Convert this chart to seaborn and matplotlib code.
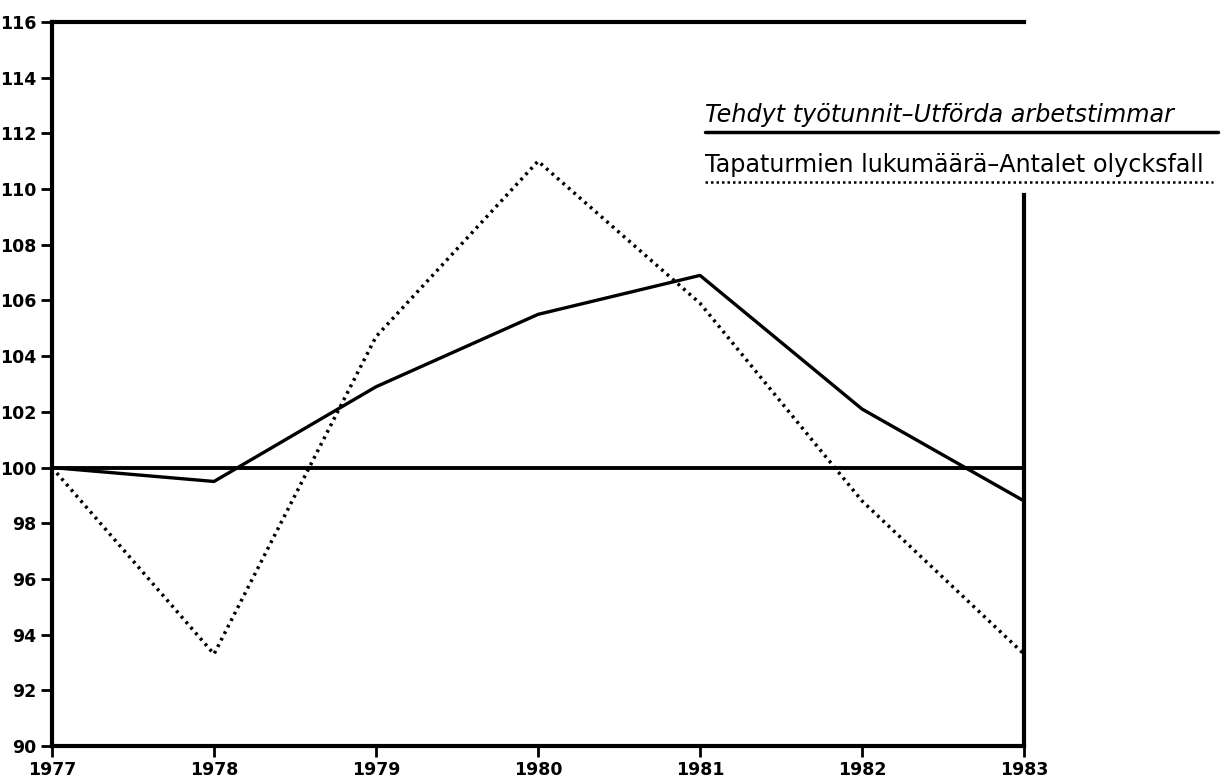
import pandas as pd
import seaborn as sns
import matplotlib.pyplot as plt
from matplotlib.lines import Line2D

years = [1977, 1978, 1979, 1980, 1981, 1982, 1983]
hours = [100.0, 99.5, 102.9, 105.5, 106.9, 102.1, 98.8]
accidents = [100.0, 93.3, 104.7, 111.0, 105.9, 98.8, 93.3]
yticks = list(range(90, 117, 2))
label_hours = 'Tehdyt työtunnit–Utförda arbetstimmar'
label_acc = 'Tapaturmien lukumäärä–Antalet olycksfall'

df = pd.DataFrame({'year': years, 'hours': hours, 'accidents': accidents})

sns.set_style('ticks')
plt.rcParams['font.family'] = ['DejaVu Sans']
plt.rcParams['text.color'] = 'black'

fig = plt.figure(figsize=(12.32, 7.77), dpi=100)
ax = fig.add_axes([0.0422, 0.0399, 0.789, 0.9318])

sns.lineplot(data=df, x='year', y='hours', ax=ax, color='black', lw=2.4)
sns.lineplot(data=df, x='year', y='accidents', ax=ax, color='black',
             lw=2.5, linestyle=(0, (0.8, 1.3)))
ax.axhline(100, color='black', lw=2.8)

ax.set_xlim(1977, 1983)
ax.set_ylim(90, 116)
ax.set_xticks(years)
ax.set_yticks(yticks)
ax.set_xlabel('')
ax.set_ylabel('')
ax.tick_params(direction='out', length=8, width=2, labelsize=12.5, pad=3, colors='black')
plt.setp(ax.get_xticklabels() + ax.get_yticklabels(), fontweight='bold')

for side in ['left', 'bottom', 'top', 'right']:
    ax.spines[side].set_visible(True)
    ax.spines[side].set_linewidth(3)
    ax.spines[side].set_color('black')
ax.spines['right'].set_bounds(90, 109.8)

# legend drawn by hand: text with the line sample underneath
x0, x1 = 705 / 1232, 1218 / 1232
fig.text(x0, 1 - 115 / 777, label_hours, style='italic', fontsize=17.2,
         ha='left', va='center', color='black')
fig.add_artist(Line2D([x0, x1], [1 - 132 / 777] * 2, transform=fig.transFigure,
                      color='black', lw=2.5))
fig.text(x0, 1 - 165 / 777, label_acc, fontsize=17.2, ha='left', va='center',
         color='black')
fig.add_artist(Line2D([x0, 1213 / 1232], [1 - 182 / 777] * 2, transform=fig.transFigure,
                      color='black', lw=1.8, linestyle=(0, (1, 1.2))))

fig.savefig('out.png', dpi=100)
